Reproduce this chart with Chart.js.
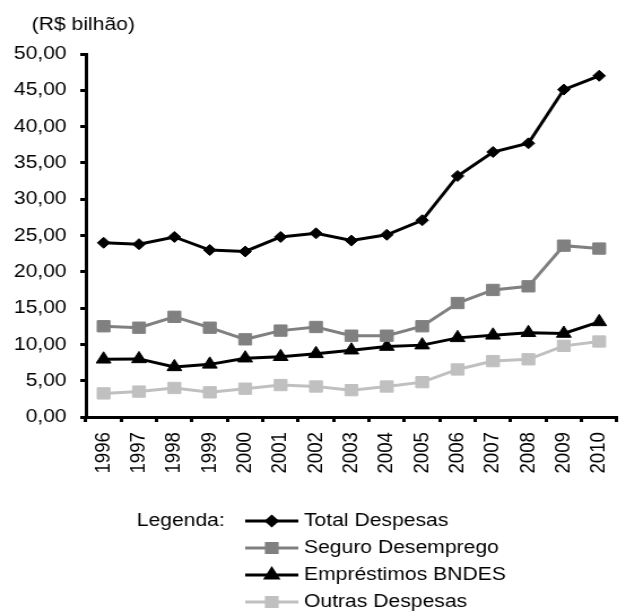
<!DOCTYPE html>
<html><head><meta charset="utf-8">
<script src="https://cdn.jsdelivr.net/npm/chart.js@4.4.1/dist/chart.umd.min.js"></script>
<style>
html,body{margin:0;padding:0;background:#fff;overflow:hidden;}
#wrap{width:625px;height:612px;overflow:hidden;position:relative;background:#fff;}
#c{position:absolute;left:0;top:0;transform:scaleX(1.13);transform-origin:0 0;}
</style></head><body>
<div id="wrap"><canvas id="c" width="563" height="612"></canvas></div>
<script>
const years = ['1996','1997','1998','1999','2000','2001','2002','2003','2004','2005','2006','2007','2008','2009','2010'];
const totalDespesas    = [24.0, 23.8, 24.8, 23.0, 22.8, 24.8, 25.3, 24.3, 25.1, 27.1, 33.2, 36.5, 37.7, 45.1, 47.0];
const seguroDesemprego = [12.5, 12.3, 13.8, 12.3, 10.7, 11.9, 12.4, 11.2, 11.2, 12.5, 15.7, 17.5, 18.0, 23.6, 23.2];
const emprestimosBNDES = [7.95, 8.0, 6.9, 7.25, 8.1, 8.3, 8.7, 9.2, 9.7, 9.9, 10.9, 11.25, 11.6, 11.5, 13.1];
const outrasDespesas   = [3.25, 3.5, 4.0, 3.4, 3.9, 4.4, 4.2, 3.7, 4.2, 4.8, 6.55, 7.7, 7.95, 9.8, 10.4];
const seriesNames = ['Total Despesas','Seguro Desemprego','Empréstimos BNDES','Outras Despesas'];
const unitLabel = '(R$ bilhão)';
const legendLabel = 'Legenda:';

const FONT = "'Liberation Sans', Arial, sans-serif";
const FSIZE = 18.7;
Chart.defaults.font.family = FONT;
Chart.defaults.font.size = FSIZE;
Chart.defaults.color = '#000';

const fmt = v => Number(v).toFixed(2).replace('.', ',');

const legendMarkers = [
  {pointStyle:'rectRot', radius:4.5},
  {pointStyle:'rect', radius:6.5},
  {pointStyle:'triangle', radius:6},
  {pointStyle:'rect', radius:6.5}
];

const extras = {
  id:'extras',
  afterDraw(chart){
    const ctx = chart.ctx;
    ctx.save();
    ctx.font = FSIZE + 'px ' + FONT;
    ctx.fillStyle = '#000';
    ctx.textBaseline = 'middle';
    ctx.textAlign = 'left';
    ctx.fillText(unitLabel, 28, 25);
    ctx.fillText(legendLabel, 121, 521);
    chart.data.datasets.forEach((ds, i) => {
      const y = 521 + i * 27;
      ctx.strokeStyle = ds.borderColor;
      ctx.lineWidth = 3;
      ctx.beginPath(); ctx.moveTo(217, y); ctx.lineTo(264, y); ctx.stroke();
      ctx.fillStyle = ds.pointBackgroundColor;
      ctx.strokeStyle = ds.pointBorderColor;
      Chart.helpers.drawPoint(ctx, {pointStyle: legendMarkers[i].pointStyle, radius: legendMarkers[i].radius, rotation:0, borderWidth:1}, 240.5, y);
      ctx.fillStyle = '#000';
      ctx.fillText(ds.label, 269, y);
    });
    ctx.restore();
  }
};

function mk(label, data, color, style, r){
  return {label, data, borderColor:color, backgroundColor:color, pointBackgroundColor:color, pointBorderColor:color,
    borderWidth:3, pointStyle:style, pointRadius:r, pointBorderWidth:1, tension:0, fill:false};
}

new Chart(document.getElementById('c'), {
  type:'line',
  data:{
    labels: years,
    datasets:[
      mk(seriesNames[0], totalDespesas, '#000000', 'rectRot', 5.5),
      mk(seriesNames[1], seguroDesemprego, '#808080', 'rect', 8),
      mk(seriesNames[2], emprestimosBNDES, '#000000', 'triangle', 7.5),
      mk(seriesNames[3], outrasDespesas, '#c0c0c0', 'rect', 8)
    ]
  },
  options:{
    responsive:false, animation:false, devicePixelRatio:1,
    layout:{padding:{top:54, left:0, right:4, bottom:0}},
    plugins:{legend:{display:false}, tooltip:{enabled:false}, title:{display:false}},
    scales:{
      x:{
        offset:true,
        grid:{offset:true, drawOnChartArea:false, drawTicks:true, tickLength:5, lineWidth:3, color:'#000'},
        border:{display:true, color:'#000', width:3},
        ticks:{minRotation:90, maxRotation:90, padding:10, autoSkip:false},
        afterFit(s){ s.height = 195; }
      },
      y:{
        min:0, max:50,
        grid:{drawOnChartArea:false, drawTicks:true, tickLength:5, lineWidth:3, color:'#000'},
        border:{display:true, color:'#000', width:3},
        ticks:{stepSize:5, padding:12, callback:(v)=>fmt(v)},
        afterFit(s){ s.width = 76; }
      }
    }
  },
  plugins:[extras]
});
</script>
</body></html>
